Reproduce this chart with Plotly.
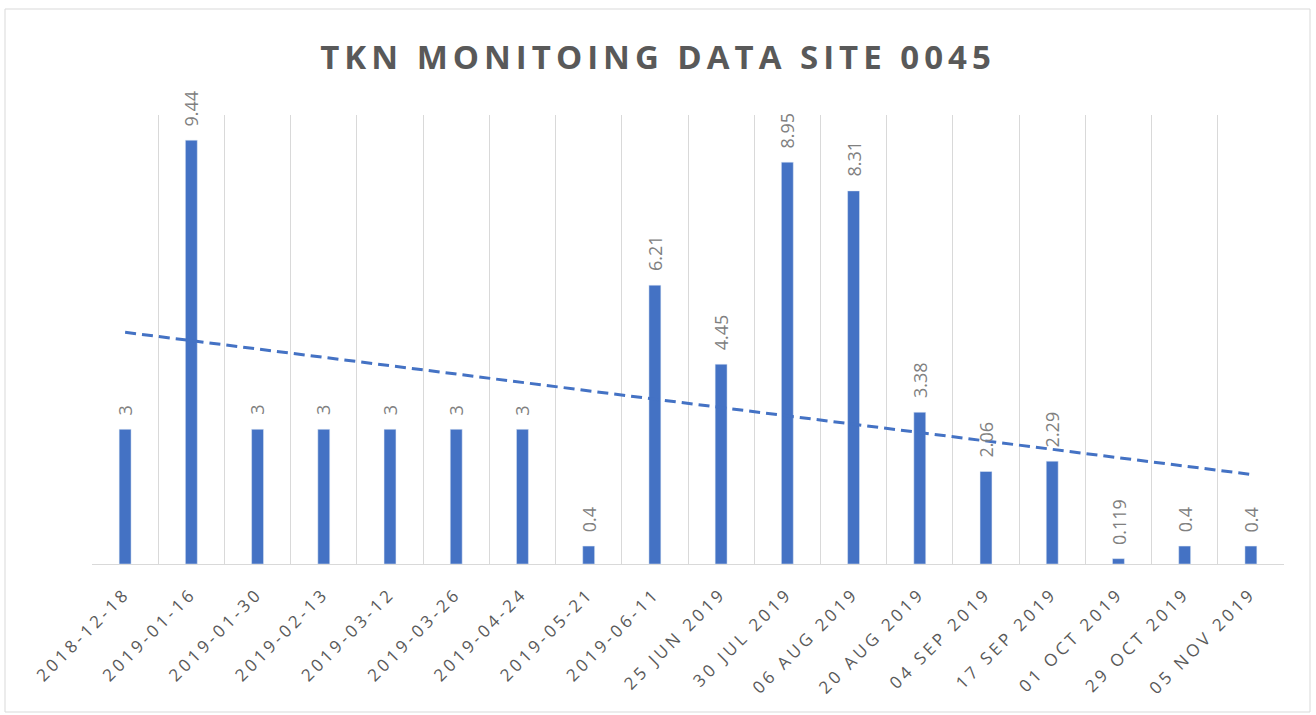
import numpy as np
import plotly.graph_objects as go

# dados
datas = ["2018-12-18", "2019-01-16", "2019-01-30", "2019-02-13", "2019-03-12",
         "2019-03-26", "2019-04-24", "2019-05-21", "2019-06-11", "25 JUN 2019",
         "30 JUL 2019", "06 AUG 2019", "20 AUG 2019", "04 SEP 2019", "17 SEP 2019",
         "01 OCT 2019", "29 OCT 2019", "05 NOV 2019"]
tkn = [3, 9.44, 3, 3, 3, 3, 3, 0.4, 6.21, 4.45, 8.95, 8.31, 3.38, 2.06, 2.29, 0.119, 0.4, 0.4]
rotulos = ["3", "9.44", "3", "3", "3", "3", "3", "0.4", "6.21", "4.45", "8.95", "8.31",
           "3.38", "2.06", "2.29", "0.119", "0.4", "0.4"]

# linha de tendência linear (como no Excel)
idx = np.arange(1, len(tkn) + 1)
coef = np.polyfit(idx, tkn, 1)
tendencia = np.polyval(coef, idx)

azul = "#4472C4"
cinza = "#595959"

fig = go.Figure()
fig.add_trace(go.Bar(x=datas, y=tkn, marker_color=azul, width=0.18))
fig.add_trace(go.Scatter(x=datas, y=tendencia, mode="lines",
                         line=dict(color=azul, width=3, dash="11px,6px")))

# rótulos de dados verticais acima das barras
rot = [dict(x=d, y=v, text=t, showarrow=False, textangle=-90,
            yanchor="bottom", xanchor="center", yshift=12,
            font=dict(family="Open Sans", size=18, color="#808080"))
       for d, v, t in zip(datas, tkn, rotulos)]

fig.update_layout(
    width=1316, height=715,
    margin=dict(l=92, r=32, t=115, b=151),
    paper_bgcolor="white", plot_bgcolor="white",
    showlegend=False,
    title=dict(text="<b>TKN MONITOING DATA SITE 0045</b>", x=0.5, xanchor="center",
               y=(715 - 57) / 715, yanchor="middle",
               font=dict(family="Open Sans", size=33, color=cinza)),
    xaxis=dict(type="category", tickson="boundaries", showgrid=True,
               gridcolor="#d9d9d9", gridwidth=1, ticks="", tickangle=-45,
               showline=True, linecolor="#d9d9d9", linewidth=1,
               ticklabelstandoff=12,
               tickfont=dict(family="Open Sans", size=17, color=cinza)),
    yaxis=dict(range=[0, 10], visible=False, showgrid=False),
    annotations=rot,
    shapes=[dict(type="rect", xref="paper", yref="paper",
                 x0=(5 - 92) / 1192, x1=(1310 - 92) / 1192,
                 y0=(564 - 712) / 449, y1=(564 - 9) / 449,
                 line=dict(color="#d9d9d9", width=1))],
)

# sem margem na página e espaçamento entre letras como no Excel
js = """
document.body.style.margin = '0';
var gd = document.getElementById('{plot_id}');
function espacar() {
  gd.querySelectorAll('.gtitle').forEach(function (e) { e.style.letterSpacing = '5px'; });
  gd.querySelectorAll('.xtick text').forEach(function (e) { e.style.letterSpacing = '3.5px'; });
}
espacar();
gd.on('plotly_afterplot', espacar);
"""

fig.write_html("out.html", post_script=js, config={"displayModeBar": False})
